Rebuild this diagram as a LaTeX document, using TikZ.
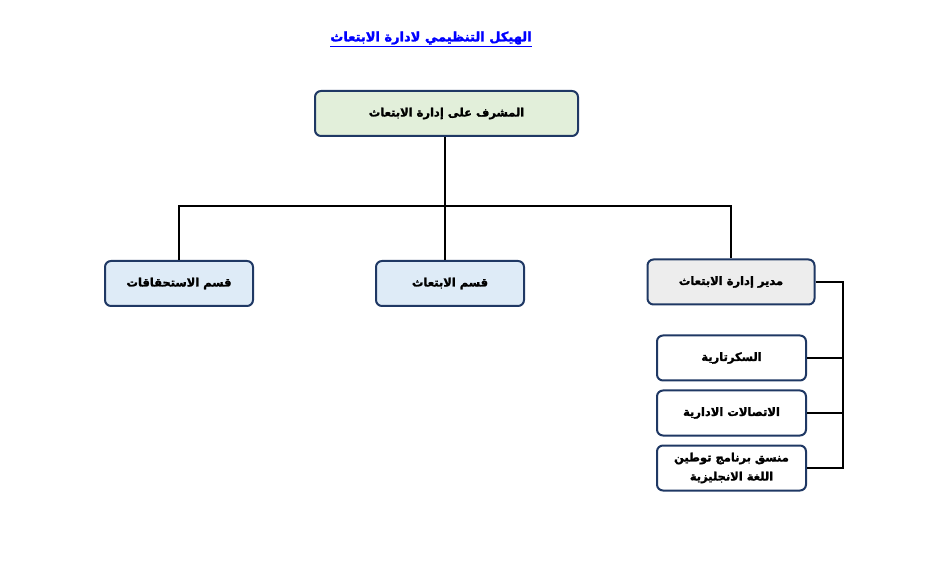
\documentclass[tikz,border=0pt]{standalone}
\usepackage{fontspec}
\usepackage{xcolor}
\usepackage{tikz}
\usetikzlibrary{positioning}
\TeXXeTstate=1
\newfontfamily\arabicfont[Script=Arabic,BoldFeatures={FakeBold=1.8}]{DejaVu Sans}
\definecolor{navyx}{HTML}{1F3864}
\definecolor{greenbg}{HTML}{E2EFDA}
\definecolor{bluebg}{HTML}{DEEBF7}
\definecolor{graybg}{HTML}{EDEDED}
\definecolor{titlex}{HTML}{0000FF}
\tikzset{
  unit/.style={draw=navyx,line width=2pt,rounded corners=6pt,align=center,
    inner sep=2pt,font=\arabicfont\bfseries\fontsize{11.5}{15}\selectfont},
  head/.style={unit,fill=greenbg,minimum width=263pt,minimum height=45pt},
  dept/.style={unit,fill=bluebg,minimum width=148pt,minimum height=45pt},
  mgr/.style={unit,fill=graybg,minimum width=167pt,minimum height=45pt},
  sub/.style={unit,fill=white,minimum width=149pt,minimum height=45pt},
  ln/.style={line width=2pt,black}
}
\begin{document}
\begin{tikzpicture}[x=1pt,y=1pt]
\useasboundingbox (0,0) rectangle (927,563);
% title
\node[font=\arabicfont\bfseries\fontsize{13}{16}\selectfont,text=titlex] (title) at (431,524)
  {\underline{\beginR الهيكل التنظيمي لادارة الابتعاث\endR}};
% boxes
\node[head] (sup) at (446.5,449.5) {\beginR المشرف على إدارة الابتعاث\endR};
\node[dept] (dues) at (179,279.5) {\beginR قسم الاستحقاقات\endR};
\node[dept] (schol) at (450,279.5) {\beginR قسم الابتعاث\endR};
\node[mgr] (dir) at (731,281) {\beginR مدير إدارة الابتعاث\endR};
\node[sub] (sec) at (731.5,205) {\beginR السكرتارية\endR};
\node[sub] (comm) at (731.5,150) {\beginR الاتصالات الادارية\endR};
\node[sub] (eng) at (731.5,95) {\beginR منسق برنامج توطين\endR\\[4pt]\beginR اللغة الانجليزية\endR};
% connectors
\coordinate (bus) at (445,357);
\coordinate (rail) at (843,0);
\draw[ln] (sup.south -| bus) -- (bus) -- (bus |- schol.north);
\draw[ln] (dues.north) |- (bus) -| (dir.north);
\draw[ln] (dir.east) -- (rail |- dir.east) -- (rail |- eng.east) -- (eng.east);
\draw[ln] (sec.east) -- (rail |- sec.east);
\draw[ln] (comm.east) -- (rail |- comm.east);
\end{tikzpicture}
\end{document}
